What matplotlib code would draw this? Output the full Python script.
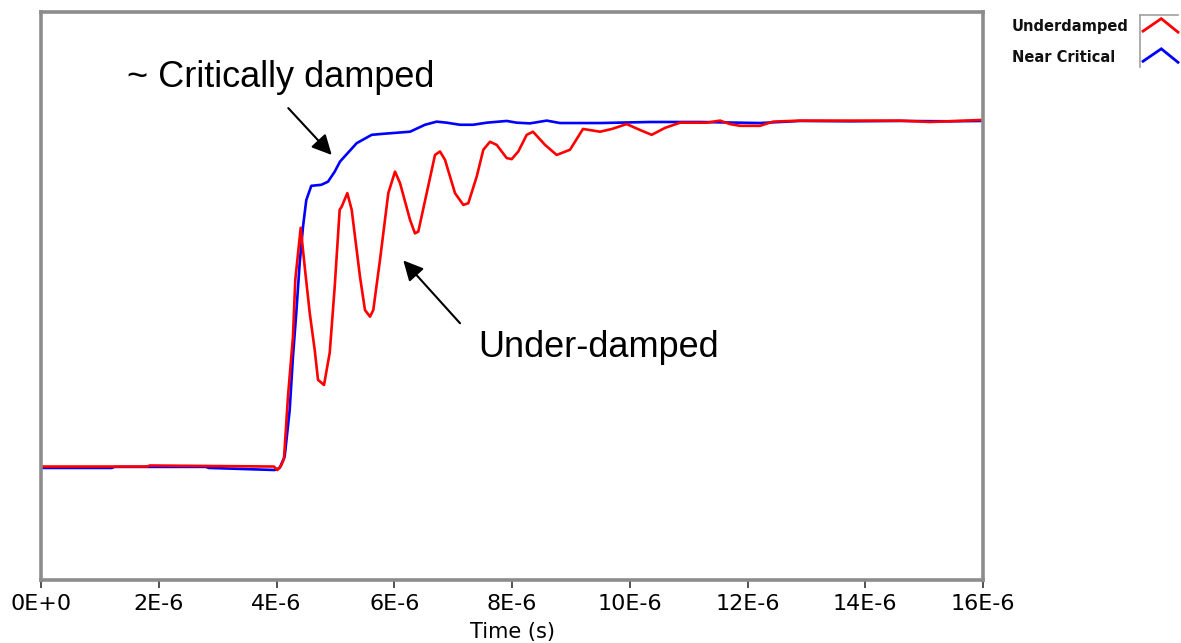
#!/usr/bin/env python3
#
# Step response of the output stage: under-damped vs. near critical damping
#

import matplotlib
matplotlib.use('Agg')
import matplotlib.pyplot as plt
import numpy as np

# Time axis in microseconds, amplitude normalised to the final level
t_near = [0.000, 1.200, 1.250, 2.800, 2.850, 3.969, 4.054, 4.139, 4.224, 4.280,
          4.336, 4.394, 4.450, 4.506, 4.591, 4.761, 4.875, 4.989, 5.079, 5.362,
          5.617, 5.814, 6.042, 6.268, 6.522, 6.721, 6.891, 7.117, 7.338, 7.570,
          7.910, 8.080, 8.306, 8.590, 8.815, 9.495, 10.344, 11.193, 12.212,
          12.892, 13.741, 14.590, 15.440, 16.000]
v_near = [-0.003, -0.003, 0.000, 0.000, -0.003, -0.009, -0.003, 0.030, 0.164, 0.318,
          0.444, 0.588, 0.692, 0.769, 0.810, 0.813, 0.822, 0.851, 0.880, 0.933,
          0.957, 0.960, 0.963, 0.966, 0.986, 0.995, 0.992, 0.986, 0.986, 0.992,
          0.997, 0.992, 0.990, 0.998, 0.991, 0.991, 0.994, 0.994, 0.991,
          0.997, 0.996, 0.997, 0.996, 0.997]

t_under = [0.000, 1.800, 1.850, 3.958, 4.014, 4.076, 4.127, 4.195, 4.280, 4.319,
           4.411, 4.479, 4.564, 4.649, 4.705, 4.807, 4.904, 4.989, 5.073, 5.107,
           5.203, 5.277, 5.418, 5.503, 5.588, 5.644, 5.758, 5.899, 6.013, 6.098,
           6.268, 6.352, 6.408, 6.551, 6.692, 6.777, 6.862, 7.032, 7.173, 7.258,
           7.401, 7.513, 7.626, 7.740, 7.910, 7.995, 8.107, 8.250, 8.357, 8.561,
           8.759, 8.985, 9.206, 9.495, 9.699, 9.948, 10.174, 10.373, 10.599,
           10.854, 11.307, 11.533, 11.703, 11.873, 12.212, 12.433, 12.892,
           14.590, 15.100, 16.000]
v_under = [0.001, 0.001, 0.004, 0.001, -0.009, 0.003, 0.023, 0.203, 0.376, 0.539,
           0.689, 0.577, 0.444, 0.337, 0.251, 0.236, 0.329, 0.520, 0.741, 0.750,
           0.789, 0.741, 0.548, 0.452, 0.433, 0.452, 0.597, 0.789, 0.851, 0.818,
           0.712, 0.673, 0.678, 0.789, 0.899, 0.909, 0.885, 0.789, 0.755, 0.760,
           0.837, 0.914, 0.937, 0.928, 0.890, 0.887, 0.909, 0.957, 0.966, 0.928,
           0.899, 0.914, 0.974, 0.966, 0.974, 0.988, 0.971, 0.957, 0.977,
           0.992, 0.992, 0.998, 0.988, 0.983, 0.983, 0.995, 0.998,
           0.998, 0.994, 1.000]

# X axis ticks
x_ticks = [0, 2, 4, 6, 8, 10, 12, 14, 16]
x_tick_labels = ['0E+0', '2E-6', '4E-6', '6E-6', '8E-6', '10E-6', '12E-6', '14E-6', '16E-6']

series_names = ['Underdamped', 'Near Critical']
series_colors = ['#ff0000', '#0000ff']

FRAME = '#8c8c8c'

def draw_legend(fig):
  # Names on the left, a small key box with a caret glyph on the right
  for i, (name, col) in enumerate(zip(series_names, series_colors)):
    y = 1 - (27 + 30 * i) / 643
    fig.text(1012 / 1181, y, name, fontsize=10.5, fontweight='bold',
             family='DejaVu Sans', ha='left', va='center', color='#111111')
  key = fig.add_axes([1140 / 1181, 1 - 67 / 643, 38 / 1181, 52 / 643])
  key.set_xlim(0, 1)
  key.set_ylim(0, 1)
  key.set_xticks([])
  key.set_yticks([])
  for side in ['bottom', 'right']:
    key.spines[side].set_visible(False)
  for side in ['left', 'top']:
    key.spines[side].set_color('#a0a0a0')
    key.spines[side].set_linewidth(1.2)
  for i, col in enumerate(series_colors):
    y0 = 0.69 - 0.58 * i
    key.plot([0.08, 0.56, 1.0], [y0, y0 + 0.24, y0 - 0.02], color=col, lw=2,
             solid_joinstyle='miter', clip_on=False)

def main():
  fig = plt.figure(figsize=(11.81, 6.43), dpi=100)
  ax = fig.add_axes([41 / 1181, 1 - 580 / 643, 942 / 1181, 568 / 643])

  ax.plot(np.array(t_near), v_near, color=series_colors[1], lw=1.9)
  ax.plot(np.array(t_under), v_under, color=series_colors[0], lw=1.9)

  ax.set_xlim(0, 16)
  ax.set_ylim(-0.326, 1.311)
  ax.set_xticks(x_ticks)
  ax.set_xticklabels(x_tick_labels, fontsize=16, family='DejaVu Sans')
  ax.set_yticks([])
  ax.tick_params(axis='x', direction='out', length=6, width=1.2, color='#333333', pad=4)
  ax.set_xlabel('Time (s)', fontsize=15, family='DejaVu Sans', labelpad=6)
  for side in ax.spines:
    ax.spines[side].set_color(FRAME)
    ax.spines[side].set_linewidth(2.6)

  # Call-outs for the two responses
  arrow = dict(arrowstyle='-|>', mutation_scale=30, lw=1.5, color='black',
               shrinkA=0, shrinkB=0)
  ax.annotate('', xy=(4.938, 0.899), xytext=(4.200, 1.034), arrowprops=arrow)
  ax.text(1.461, 1.096, '~ Critically damped', fontsize=26, family='Liberation Sans',
          ha='left', va='baseline')
  ax.annotate('', xy=(6.154, 0.595), xytext=(7.117, 0.414), arrowprops=arrow)
  ax.text(7.423, 0.318, 'Under-damped', fontsize=26, family='Liberation Sans',
          ha='left', va='baseline')

  draw_legend(fig)
  fig.savefig('out.png', dpi=100)
  plt.close(fig)

if __name__ == '__main__':
  main()
